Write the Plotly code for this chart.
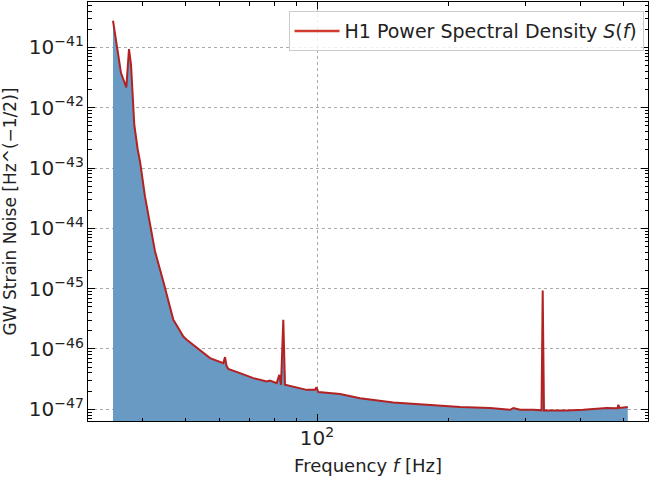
import plotly.graph_objects as go

# Frequency [Hz] and PSD values
freq = [34.2, 35.67, 36.68, 37.2, 37.6, 38.25, 38.95, 39.42, 40.46, 41.76, 42.66,
        44.56, 45.74, 46.97, 48.22, 49.51, 50.4, 52.18, 54.06, 56.97, 61.1, 61.65,
        62.13, 62.72, 66.7, 71.53, 76.75, 78.1, 80.9, 82.0, 82.75, 83.75, 84.5,
        89.86, 94.7, 98.95, 99.7, 100.7, 112.9, 125.4, 149.4, 178.1, 212.2, 248.5,
        276.0, 280.8, 290.9, 312.1, 325.7, 327.7, 329.9, 371.8, 405.8, 458.8, 485.8,
        487.8, 490.9, 512.6]
psd = [2.77e-41, 3.76e-42, 2.17e-42, 9.4e-42, 5.16e-42, 5.22e-43, 2.01e-43, 1.29e-43,
       3.38e-44, 1.01e-44, 4.14e-45, 1.32e-45, 6.54e-46, 3.05e-46, 2.22e-46, 1.61e-46,
       1.42e-46, 1.17e-46, 9.7e-47, 7.06e-47, 5.83e-47, 7.34e-47, 5.26e-47, 4.65e-47,
       3.98e-47, 3.29e-47, 2.89e-47, 3.0e-47, 2.72e-47, 3.73e-47, 2.55e-47, 3.05e-46,
       2.55e-47, 2.33e-47, 2.1e-47, 2.1e-47, 2.32e-47, 1.93e-47, 1.79e-47, 1.53e-47,
       1.30e-47, 1.19e-47, 1.09e-47, 1.05e-47, 9.8e-48, 1.05e-47, 9.8e-48, 9.8e-48,
       9.6e-48, 9.3e-46, 9.55e-48, 9.55e-48, 9.8e-48, 1.05e-47, 1.04e-47, 1.19e-47,
       1.05e-47, 1.09e-47]

series_name = "H1 Power Spectral Density <i>S</i>(<i>f</i>)"
x_title = "Frequency <i>f</i> [Hz]"
y_title = "GW Strain Noise [Hz^(\u22121/2)]"

FONT = "DejaVu Sans"
LINE_COLOR = "#b22222"

fig = go.Figure()
fig.add_trace(go.Scatter(
    x=freq, y=psd, mode="lines", name=series_name, showlegend=False,
    line=dict(color=LINE_COLOR, width=2),
    fill="tozeroy", fillcolor="rgb(104,154,196)",
))
# legend entry drawn as a plain line
fig.add_trace(go.Scatter(
    x=[None], y=[None], mode="lines", name=series_name,
    line=dict(color="#d03a2f", width=2.5),
))

axis_common = dict(
    type="log", showline=True, linecolor="black", linewidth=1, mirror="allticks",
    ticks="inside", ticklen=7, tickwidth=1, tickcolor="black",
    showgrid=True, gridcolor="#aaaaaa", griddash="dot", gridwidth=1,
    exponentformat="power", dtick=1, zeroline=False,
    tickfont=dict(family=FONT, size=16, color="#222222"),
    minor=dict(ticks="inside", ticklen=3.5, tickcolor="black", dtick="D1", showgrid=False),
)

fig.update_layout(
    width=649, height=487,
    margin=dict(l=88, r=1, t=2, b=66),
    paper_bgcolor="white", plot_bgcolor="white",
    font=dict(family=FONT, size=17, color="#222222"),
    showlegend=True,
    legend=dict(x=0.992, y=0.978, xanchor="right", yanchor="top",
                bgcolor="rgba(255,255,255,0.8)", bordercolor="#cccccc", borderwidth=1,
                itemwidth=45,
                font=dict(family=FONT, size=19, color="#222222")),
    xaxis=dict(axis_common, range=[1.4769, 2.756],
               title=dict(text=x_title, font=dict(family=FONT, size=18), standoff=10)),
    yaxis=dict(axis_common, range=[-47.194, -40.247],
               title=dict(text=y_title, font=dict(family=FONT, size=17), standoff=7)),
)

fig.write_html("out.html")
